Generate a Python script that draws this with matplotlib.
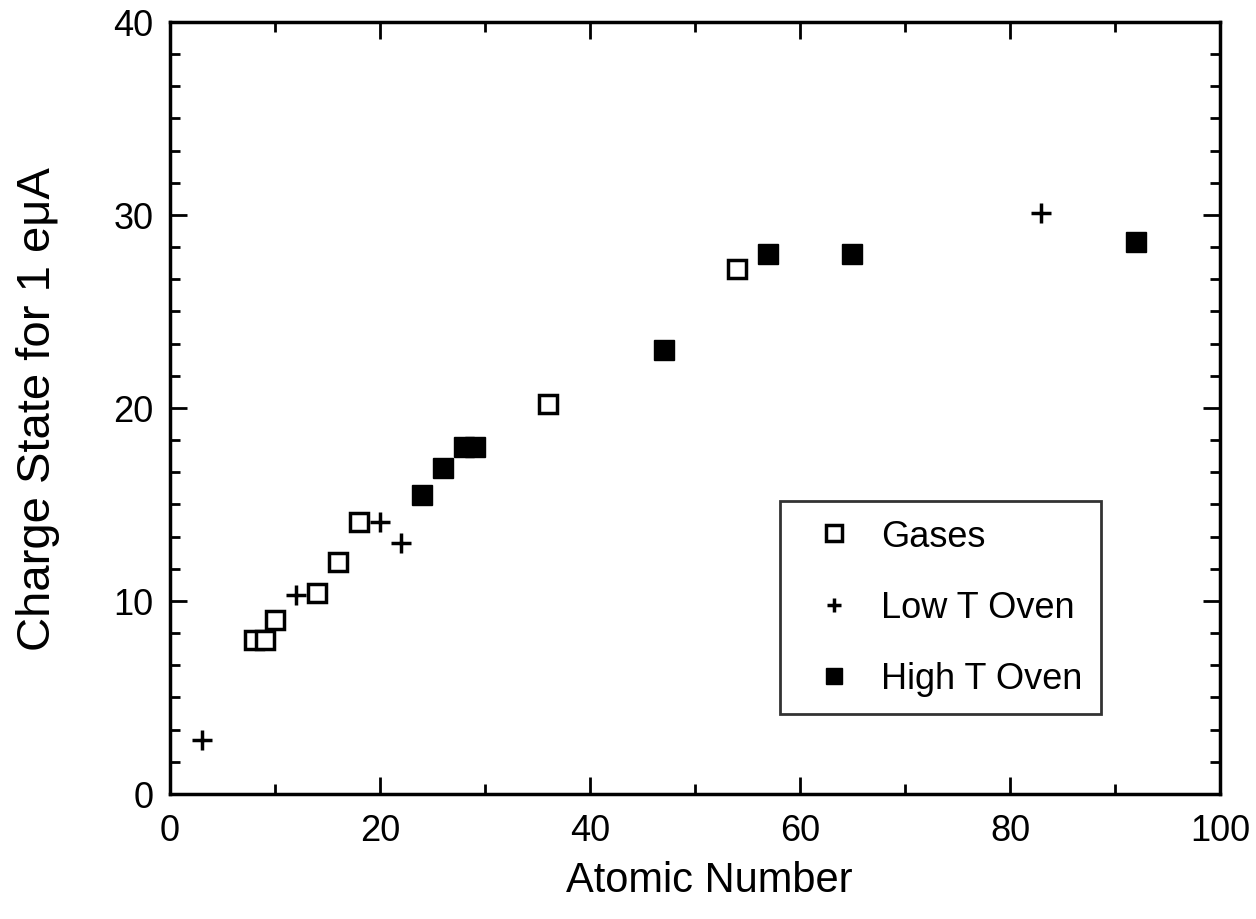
import matplotlib
matplotlib.use("Agg")
import matplotlib.pyplot as plt
from matplotlib.ticker import MultipleLocator

plt.rcParams['font.family'] = ['Liberation Sans', 'DejaVu Sans']

# Gases (open squares)
gas_z = [8, 9, 10, 14, 16, 18, 36, 54]
gas_q = [8.0, 8.0, 9.0, 10.4, 12.0, 14.1, 20.2, 27.2]

# Low T oven (plus)
low_z = [3, 12, 20, 22, 83]
low_q = [2.8, 10.3, 14.1, 13.0, 30.1]

# High T oven (filled squares)
high_z = [24, 26, 28, 29, 47, 57, 65, 92]
high_q = [15.5, 16.9, 18.0, 18.0, 23.0, 28.0, 28.0, 28.6]

fig = plt.figure(figsize=(12.56, 9.2), dpi=100)
ax = fig.add_axes([0.1354, 0.1359, 0.8359, 0.8391])

ax.plot(gas_z, gas_q, 's', ms=13, mfc='white', mec='black', mew=2.5, label='Gases', zorder=3)
ax.plot(low_z, low_q, '+', ms=15, mec='black', mew=2.5, label='Low T Oven', zorder=3)
ax.plot(high_z, high_q, 's', ms=14, mfc='black', mec='black', mew=1, label='High T Oven', zorder=3)

ax.set_xlim(0, 100)
ax.set_ylim(0, 40)
ax.xaxis.set_major_locator(MultipleLocator(20))
ax.xaxis.set_minor_locator(MultipleLocator(10))
ax.yaxis.set_major_locator(MultipleLocator(10))
ax.yaxis.set_minor_locator(MultipleLocator(10 / 6))
ax.tick_params(which='both', direction='in', top=True, right=True, width=2, labelsize=26)
ax.tick_params(axis='y', pad=12)
ax.tick_params(axis='x', pad=14)
ax.tick_params(which='major', length=12)
ax.tick_params(which='minor', length=7)
for s in ax.spines.values():
    s.set_linewidth(2.5)

ax.set_xlabel('Atomic Number', fontsize=30)
ax.xaxis.set_label_coords(0.514, -0.085)
ax.set_ylabel('Charge State for 1 e\u03bcA', fontsize=34, labelpad=38)

leg = ax.legend(loc='upper left', bbox_to_anchor=(0.581, 0.3795), fontsize=26,
                frameon=True, fancybox=False, edgecolor='black', labelspacing=1.0,
                handlelength=2.0, handletextpad=0.3, borderpad=0.5, borderaxespad=0)
leg.get_frame().set_linewidth(2)
for h, size in zip(leg.legend_handles, [11, 10, 12]):
    h.set_markersize(size)

fig.savefig('out.png', dpi=100)
